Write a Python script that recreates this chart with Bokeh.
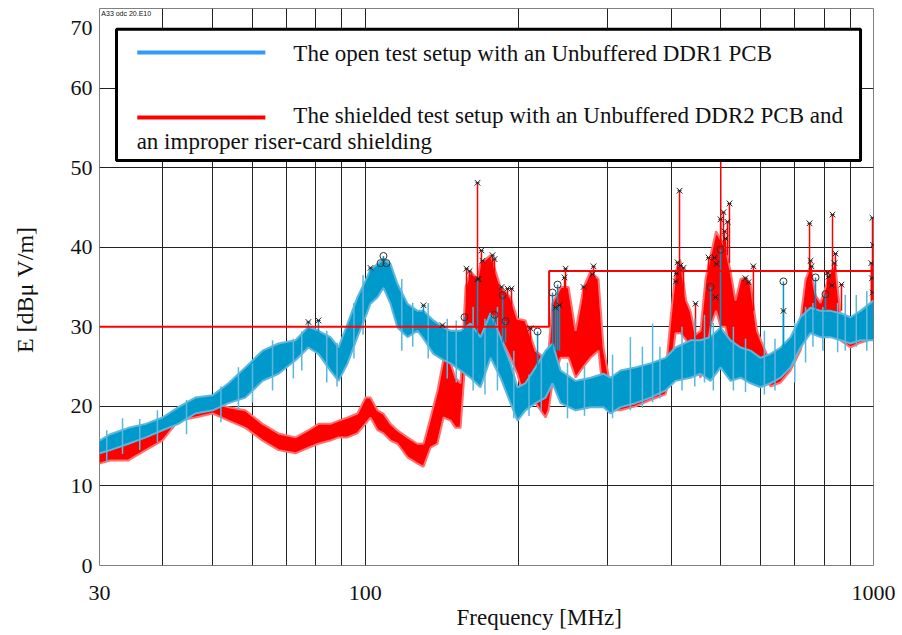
from bokeh.plotting import figure
from bokeh.models import FixedTicker, Label, BoxAnnotation, Range1d, PrintfTickFormatter, Title
from bokeh.embed import file_html
from bokeh.resources import INLINE

# ---------------- data ----------------
blue_freq = [30.0, 31.5, 34.2, 37.0, 39.9, 42.9, 46.3, 50.1, 53.8, 58.1, 62.8, 67.5, 72.9,
             77.3, 80.9, 85.4, 88.6, 92.3, 96.5, 100.1, 102.4, 105.7, 108.6, 112.1, 115.7,
             121.1, 126.7, 130.2, 136.2, 142.6, 147.2, 154.0, 161.1, 168.6, 176.4, 184.6,
             193.1, 199.3, 206.6, 216.3, 226.3, 233.6, 242.3, 259.3, 277.5, 294.3, 303.7,
             317.8, 340.2, 364.1, 389.7, 407.8, 436.5, 456.6, 477.9, 500.1, 523.2, 547.6,
             573.0, 599.4, 627.1, 656.3, 686.6, 718.4, 751.7, 786.5, 823.1, 861.2, 901.1,
             942.9, 1000.0]
blue_lo = [14.1, 14.5, 15.3, 16.1, 17.0, 17.8, 19.1, 19.5, 20.4, 21.1, 23.2, 24.1, 25.8,
           27.4, 26.6, 24.5, 23.2, 25.4, 28.7, 31.2, 32.9, 33.7, 34.9, 32.9, 29.9,
           28.7, 29.5, 28.5, 26.6, 25.8, 25.4, 24.5, 23.6, 22.4, 26.1, 23.6,
           20.4, 18.2, 19.5, 20.4, 21.1, 22.9, 20.4, 19.5, 19.9, 19.9, 19.1,
           19.9, 20.4, 21.1, 22.0, 23.2, 23.6, 24.1, 23.2, 24.9, 23.2, 23.6,
           22.9, 22.4, 22.9, 23.6, 24.9, 27.4, 29.2, 28.7, 28.7, 28.3, 27.9,
           28.3, 28.3]
blue_hi = [15.7, 16.5, 17.3, 17.8, 18.6, 19.9, 21.1, 21.4, 22.9, 24.9, 27.0, 27.9, 28.3,
           30.0, 29.5, 28.7, 27.4, 30.4, 33.7, 35.8, 37.2, 37.9, 38.5, 37.9, 35.4,
           32.9, 32.0, 32.0, 30.8, 29.9, 29.5, 29.5, 30.4, 28.7, 31.7, 28.7,
           25.4, 22.4, 22.9, 24.9, 27.0, 27.9, 24.5, 23.2, 23.6, 24.1, 23.6,
           24.5, 24.9, 25.4, 26.1, 27.4, 28.3, 28.3, 28.7, 29.9, 28.3, 27.4,
           27.0, 26.1, 26.6, 27.4, 28.7, 31.2, 32.4, 32.0, 32.0, 31.7, 31.2,
           32.0, 33.3]

red_freq = [30.0, 31.5, 34.2, 37.0, 39.9, 42.9, 46.3, 50.1, 53.8, 58.1, 62.8, 67.5, 72.9,
            77.3, 80.9, 85.4, 88.6, 92.3, 96.5, 100.1, 102.4, 105.7, 108.6, 112.1, 115.7,
            121.1, 126.7, 130.2, 134.4, 138.7, 142.6, 147.2, 150.5, 154.0, 157.5, 161.1,
            166.3, 168.6, 176.4, 184.6, 193.1, 199.3, 206.6, 216.3, 226.3, 229.4, 233.6,
            242.3, 251.2, 259.3, 268.9, 277.5, 287.7, 294.3, 303.7, 317.8, 340.2, 364.1,
            389.7, 398.7, 407.8, 417.2, 428.0, 436.5, 446.5, 456.6, 467.1, 477.9, 490.0,
            500.1, 511.0, 523.2, 535.2, 547.6, 560.0, 573.0, 590.0, 607.7, 627.1, 656.3,
            686.6, 718.4, 735.0, 751.7, 769.0, 786.5, 805.0, 823.1, 841.8, 861.2, 901.1,
            942.9, 1000.0]
red_lo = [12.8, 13.2, 13.2, 14.5, 15.7, 18.2, 18.6, 19.1, 18.2, 17.3, 15.7, 14.5, 14.1,
          14.8, 15.3, 15.7, 16.1, 16.1, 16.6, 17.8, 18.6, 17.0, 16.6, 15.7, 15.3,
          13.6, 12.8, 12.4, 14.8, 15.3, 18.6, 18.2, 17.3, 17.3, 26.0, 28.7,
          27.5, 27.0, 28.7, 28.7, 26.1, 24.0, 20.4, 20.4, 18.6, 19.5, 22.9,
          26.1, 26.1, 23.6, 25.0, 26.1, 27.0, 21.0, 19.5, 19.5, 20.0, 20.8,
          21.5, 24.0, 29.2, 29.2, 28.3, 27.0, 25.5, 23.6, 26.0, 30.0, 32.0,
          30.0, 30.0, 27.0, 26.6, 26.1, 27.0, 26.1, 25.4, 24.0, 22.5, 23.0,
          24.5, 27.0, 29.5, 30.0, 29.5, 29.0, 29.5, 30.4, 30.4, 28.3, 27.4,
          28.0, 28.5]
red_hi = [15.0, 15.3, 15.3, 16.6, 18.2, 19.9, 20.7, 20.4, 19.9, 19.5, 17.8, 16.6, 16.1,
          17.0, 17.8, 17.8, 18.2, 18.6, 19.1, 21.1, 21.1, 19.5, 19.1, 17.8, 17.0,
          16.1, 15.3, 15.3, 18.6, 22.0, 26.0, 25.4, 23.6, 22.9, 35.0, 37.0,
          36.0, 38.0, 39.0, 35.0, 33.7, 31.0, 30.8, 27.0, 26.0, 27.0, 33.0,
          35.0, 35.0, 29.5, 35.0, 37.0, 36.0, 27.4, 22.5, 22.0, 22.5, 23.0,
          24.0, 31.0, 37.0, 38.3, 33.3, 32.0, 29.0, 29.5, 36.0, 39.0, 42.0,
          41.0, 40.0, 37.0, 33.3, 36.0, 36.2, 35.4, 29.5, 27.5, 25.5, 26.0,
          28.0, 31.0, 36.0, 37.5, 34.0, 33.0, 35.0, 37.0, 37.5, 31.5, 31.2,
          31.5, 33.0]

# thin single-sample spikes visible above / below the noise bands
blue_spike_freq = [31.0, 33.3, 36.0, 39.0, 44.5, 52.0, 56.3, 60.0, 65.7, 72.2, 75.0, 84.0,
                   88.0, 95.0, 99.0, 118.0, 124.0, 133.0, 145.0, 151.0, 163.0, 172.0, 182.0,
                   196.0, 210.0, 222.0, 250.0, 270.0, 306.6, 332.4, 351.0, 367.6, 380.0,
                   420.0, 445.0, 465.0, 484.0, 530.0, 560.0, 610.0, 640.0, 700.0, 735.0,
                   760.0, 795.0, 850.0, 880.0, 925.0, 970.0]
blue_spike_top = [17.0, 18.5, 18.4, 19.5, 20.8, 22.5, 24.9, 25.4, 28.3, 28.5, 29.4, 29.5,
                  28.0, 33.0, 36.5, 36.0, 33.0, 33.0, 31.0, 30.8, 32.5, 31.0, 32.5,
                  27.0, 24.0, 26.5, 25.5, 25.0, 26.5, 28.7, 27.5, 30.4, 27.5,
                  30.0, 31.0, 31.5, 30.5, 30.0, 28.5, 29.5, 28.5, 30.5, 32.5,
                  33.0, 32.5, 33.0, 34.0, 34.0, 34.5]
blue_spike_bottom = [13.0, 14.0, 14.5, 15.5, 16.5, 18.0, 19.5, 20.5, 22.0, 23.5, 24.5, 23.0,
                     22.5, 26.0, 29.0, 27.0, 27.5, 26.0, 23.5, 23.0, 22.0, 21.5, 22.0,
                     18.5, 18.8, 19.5, 18.5, 18.8, 18.5, 19.5, 19.8, 20.5, 21.0,
                     22.0, 22.5, 23.0, 22.0, 22.0, 21.8, 21.5, 22.0, 23.0, 25.5,
                     27.5, 27.0, 26.8, 27.0, 27.5, 27.0]

limit_freq = [30, 230, 230, 1000]
limit_level = [30, 30, 37, 37]

red_peak_freq = [158.2, 160.4, 166.3, 167.1, 169.3, 170.1, 178.0, 179.6, 185.4, 190.5, 194.0,
                 211.4, 246.7, 247.8, 268.9, 280.0, 281.3,
                 408.5, 409.7, 411.5, 415.3, 417.2, 422.8, 446.5,
                 473.6, 486.6, 488.8, 491.0, 500.1, 500.6, 506.8, 509.2, 511.5, 516.1, 520.7,
                 559.9, 567.5, 580.4,
                 748.4, 751.7, 755.0, 812.0, 815.6, 828.0, 830.5, 838.0, 841.8, 865.0,
                 990.0, 993.0, 995.4, 996.5, 998.0]
red_peak_level = [37.3, 37.0, 48.1, 36.0, 39.6, 38.3, 39.0, 38.5, 35.0, 34.8, 34.8,
                  29.8, 36.2, 37.3, 35.0, 36.6, 37.6,
                  35.7, 36.7, 38.1, 47.1, 37.7, 37.4, 32.9,
                  38.7, 38.7, 33.7, 37.9, 43.5, 52.5, 44.4, 42.0, 41.1, 43.2, 45.5,
                  36.1, 35.6, 37.6,
                  43.0, 38.3, 37.6, 36.8, 36.3, 35.2, 44.1, 38.0, 39.2, 35.3,
                  38.0, 36.1, 43.7, 34.3, 40.3]
red_peak_base = [33, 34, 33, 33, 35, 35, 36, 36, 33, 32, 32,
                 27, 33, 34, 33, 34, 35,
                 34, 34, 35, 36, 35, 34, 29,
                 36, 37, 33, 36, 40, 40, 40, 40, 39, 39, 38,
                 34, 34, 32,
                 36, 36, 36, 35, 35, 34, 37, 36, 37, 32,
                 33, 33, 33, 33, 33]

blue_x_freq = [77.3, 80.9, 102.4, 130.2, 141.9, 166.3, 236.8, 241.1, 665.0]
blue_x_level = [30.6, 30.8, 37.4, 32.7, 30.2, 36.0, 32.4, 32.7, 32.0]
blue_x_base = [28, 28, 36, 31, 29, 29, 27, 27, 27]

blue_circle_freq = [107.2, 108.6, 110.1, 156.8, 179.6, 186.3, 188.8, 218.3, 233.6, 239.0,
                    477.9, 500.1, 665.0, 769.0, 804.6]
blue_circle_level = [38.0, 38.9, 38.0, 31.2, 31.5, 34.0, 30.7, 29.4, 34.3, 35.3,
                     35.0, 39.7, 35.7, 36.2, 34.1]
blue_circle_base = [36, 37, 36, 28, 29, 28, 28, 24, 27, 27,
                    28, 29, 27, 32, 32]

y_ticks = [0, 10, 20, 30, 40, 50, 60]
y_top_label = "70"
x_major = [30, 100, 1000]
x_minor = [40, 50, 60, 70, 80, 90, 200, 300, 400, 500, 600, 700, 800, 900]

legend_blue = "The open test setup with an Unbuffered DDR1 PCB"
legend_red_1 = "The shielded test setup with an Unbuffered DDR2 PCB and"
legend_red_2 = "an improper riser-card shielding"

# ---------------- figure ----------------
FONT = "Liberation Serif"
BLUE = "#0099CC"
BLUE_EDGE = "#5DB7DD"
RED = "#FF0000"
RED_EDGE = "#FF7070"
INK = "#111111"

p = figure(width=900, height=635, x_axis_type="log",
           x_range=Range1d(30, 1000), y_range=Range1d(0, 70),
           output_backend="svg", toolbar_location=None,
           min_border_left=99, min_border_right=27, min_border_top=8,
           min_border_bottom=70)
p.outline_line_color = "#808080"
p.outline_line_width = 1

# bands
p.varea(x=red_freq, y1=red_lo, y2=red_hi, fill_color=RED)
p.line(x=red_freq, y=red_hi, line_color=RED_EDGE, line_width=2)
p.line(x=red_freq, y=red_lo, line_color=RED_EDGE, line_width=2)
p.segment(x0=red_peak_freq, y0=red_peak_base, x1=red_peak_freq, y1=red_peak_level,
          line_color=RED, line_width=1.5)

p.varea(x=blue_freq, y1=blue_lo, y2=blue_hi, fill_color=BLUE)
p.line(x=blue_freq, y=blue_hi, line_color=BLUE_EDGE, line_width=2)
p.line(x=blue_freq, y=blue_lo, line_color=BLUE_EDGE, line_width=2)
p.segment(x0=blue_spike_freq, y0=blue_spike_bottom, x1=blue_spike_freq, y1=blue_spike_top,
          line_color=BLUE_EDGE, line_width=1.5)
p.segment(x0=blue_x_freq, y0=blue_x_base, x1=blue_x_freq, y1=blue_x_level,
          line_color=BLUE, line_width=1.5)
p.segment(x0=blue_circle_freq, y0=blue_circle_base, x1=blue_circle_freq, y1=blue_circle_level,
          line_color=BLUE, line_width=1.5)

# limit line
p.line(x=limit_freq, y=limit_level, line_color=RED, line_width=2)

# markers
for fx, fy in [(red_peak_freq, red_peak_level), (blue_x_freq, blue_x_level)]:
    p.scatter(x=fx, y=fy, marker="x", size=8, line_color="#222222", line_width=1)
    p.scatter(x=fx, y=fy, marker="dash", size=4, line_color="#222222", line_width=1)
p.scatter(x=blue_circle_freq, y=blue_circle_level, marker="circle", size=7,
          fill_color=None, line_color="#333333", line_width=1)

# axes
p.xaxis.ticker = FixedTicker(ticks=x_major, minor_ticks=x_minor)
p.xaxis.formatter = PrintfTickFormatter(format="%d")
# the top label "70" sits lower than its value in the original
p.yaxis.ticker = FixedTicker(ticks=y_ticks + [67.5])
p.yaxis.major_label_overrides = {67.5: y_top_label}
for ax in (p.xaxis[0], p.yaxis[0]):
    ax.axis_line_color = None
    ax.major_tick_line_color = None
    ax.minor_tick_line_color = None
    ax.major_tick_out = 0
    ax.major_tick_in = 0
    ax.minor_tick_out = 0
    ax.minor_tick_in = 0
    ax.major_label_text_font = FONT
    ax.major_label_text_font_size = "22px"
    ax.major_label_text_color = INK
    ax.axis_label_text_font = FONT
    ax.axis_label_text_font_size = "24px"
    ax.axis_label_text_font_style = "normal"
    ax.axis_label_text_color = INK
p.yaxis.axis_label = "E  [dBμ V/m]"
p.xaxis.major_label_standoff = 20
p.yaxis.major_label_standoff = 7
p.yaxis.axis_label_standoff = 30

p.add_layout(Title(text="Frequency [MHz]", align="left", offset=357, standoff=0,
                   text_font=FONT, text_font_size="23px", text_font_style="normal",
                   text_color=INK), "below")

p.xgrid.ticker = FixedTicker(ticks=x_major, minor_ticks=x_minor)
p.xgrid.grid_line_color = "#222222"
p.xgrid.minor_grid_line_color = "#222222"
p.xgrid.grid_line_width = 1
p.ygrid.ticker = FixedTicker(ticks=y_ticks)
p.ygrid.grid_line_color = "#222222"
p.ygrid.grid_line_width = 1

p.add_layout(Label(x=30.25, y=69.4, text="A33 odc 20.E10", text_align="left",
                   text_baseline="middle", text_font="Liberation Sans", text_font_size="7px",
                   text_color=INK))

# legend box
p.add_layout(BoxAnnotation(left=32.4, right=943, bottom=50.9, top=67.4,
                           fill_color="white", fill_alpha=1.0,
                           line_color="black", line_width=3, line_alpha=1.0))
p.segment(x0=[35.6], y0=[64.47], x1=[63.6], y1=[64.47], line_color="#3399FF",
          line_width=4, level="overlay")
p.segment(x0=[35.6], y0=[56.3], x1=[63.6], y1=[56.3], line_color=RED,
          line_width=4, level="overlay")
for txt, xx, yy in [(legend_blue, 72.2, 64.35), (legend_red_1, 72.2, 56.55), (legend_red_2, 35.5, 53.3)]:
    p.add_layout(Label(x=xx, y=yy, text=txt, text_align="left", text_baseline="middle",
                       text_font=FONT, text_font_size="23px", text_color=INK,
                       level="overlay"))

open("out.html", "w").write(file_html(p, INLINE))
